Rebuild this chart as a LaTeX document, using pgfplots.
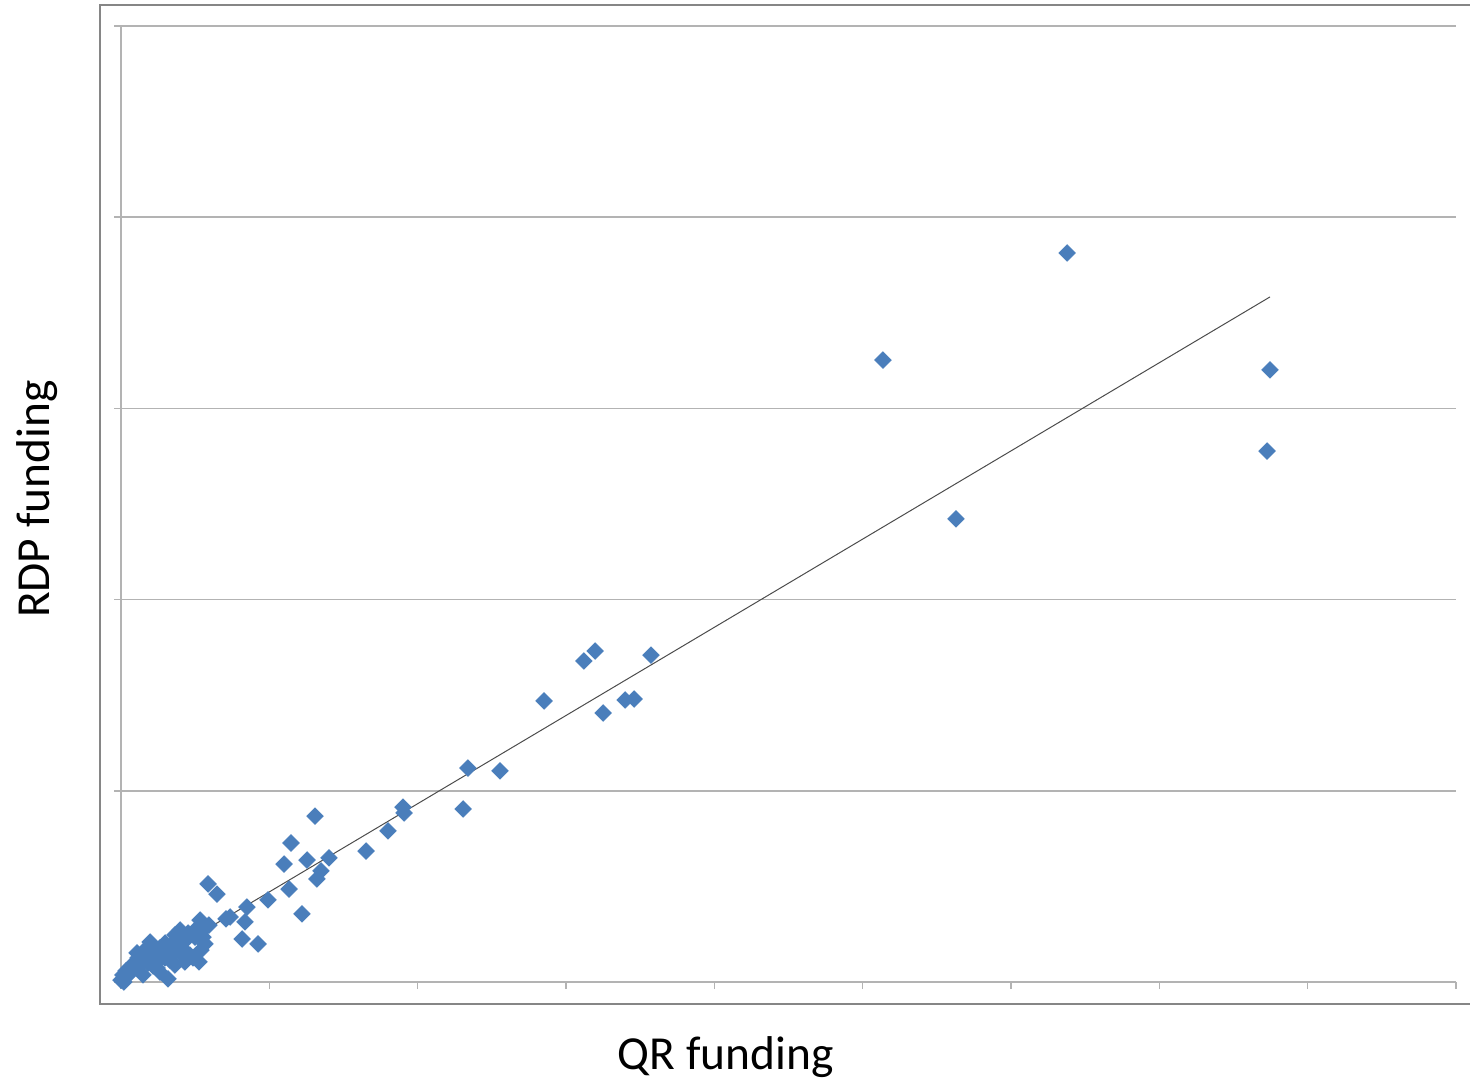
\documentclass[border=0pt]{standalone}
\usepackage{fontspec}
\setmainfont{Carlito}
\usepackage{pgfplots}
\usepackage{pgfplotstable}
\pgfplotsset{compat=1.18}
\definecolor{xlblue}{HTML}{4A7EBB}
\definecolor{gridgray}{HTML}{B3B3B3}
\definecolor{framegray}{HTML}{868686}
\pgfplotstableread{
x y
6.378 3.813
5.137 3.253
7.746 3.201
7.726 2.777
5.629 2.422
3.121 1.679
3.196 1.731
3.573 1.710
2.852 1.470
3.250 1.407
3.398 1.475
3.459 1.480
2.339 1.119
2.555 1.104
2.306 0.905
1.901 0.915
1.908 0.884
1.800 0.790
1.652 0.685
1.308 0.868
1.146 0.727
1.099 0.617
1.254 0.638
1.402 0.649
1.348 0.581
1.321 0.539
1.133 0.486
0.991 0.429
1.220 0.356
0.849 0.392
0.836 0.314
0.816 0.225
0.924 0.199
0.587 0.513
0.647 0.460
0.708 0.330
0.735 0.340
0.317 0.016
0.000 0.010
0.020 0.000
0.013 0.037
0.040 0.031
0.034 0.058
0.061 0.078
0.067 0.052
0.088 0.099
0.108 0.084
0.115 0.126
0.108 0.152
0.142 0.136
0.148 0.105
0.148 0.037
0.175 0.178
0.182 0.099
0.196 0.209
0.209 0.131
0.216 0.084
0.236 0.162
0.243 0.073
0.249 0.110
0.263 0.178
0.276 0.141
0.297 0.204
0.297 0.126
0.317 0.167
0.330 0.115
0.344 0.199
0.364 0.246
0.364 0.157
0.384 0.220
0.398 0.272
0.411 0.178
0.418 0.136
0.438 0.220
0.452 0.256
0.465 0.141
0.485 0.126
0.499 0.235
0.506 0.277
0.526 0.105
0.533 0.324
0.553 0.272
0.553 0.235
0.566 0.199
0.593 0.298
0.539 0.167
0.431 0.105
0.364 0.089
0.263 0.052
}\scatterdata
\begin{document}
\begin{tikzpicture}
\path[use as bounding box] (-60.5pt,-49.5pt) rectangle (674.5pt,491pt);
\draw[framegray, line width=1.1pt] (-10.5pt,-11pt) rectangle (700pt,488.5pt);
\begin{axis}[
 at={(0,0)}, anchor=south west,
 scale only axis, width=667.5pt, height=478pt,
 xmin=0, xmax=9, ymin=0, ymax=5,
 axis x line=bottom, axis y line=left,
 axis line style={-, gridgray, line width=0.8pt},
 xtick={0,...,9}, ytick={0,...,5},
 xticklabels={}, yticklabels={},
 tick align=outside, major tick length=3.5pt,
 tick style={gridgray, line width=0.8pt},
 ymajorgrids, grid style={gridgray, line width=0.8pt},
 xlabel={QR funding}, ylabel={RDP funding},
 label style={font=\fontsize{23.7}{28}\selectfont},
 xlabel style={at={(axis description cs:0.453,-0.0785)}, anchor=center},
 ylabel style={at={(axis description cs:-0.0629,0.505)}, anchor=center},
 clip=false,
]
\addplot[only marks, mark=square*, mark size=2.9pt,
  mark options={rotate=45, fill=xlblue, draw=xlblue, line width=0.4pt}]
  table[x=x, y=y] {\scatterdata};
\addplot[no marks, color=black!70, line width=0.5pt] coordinates {(0,0.010) (7.746,3.583)};
\end{axis}
\end{tikzpicture}
\end{document}
